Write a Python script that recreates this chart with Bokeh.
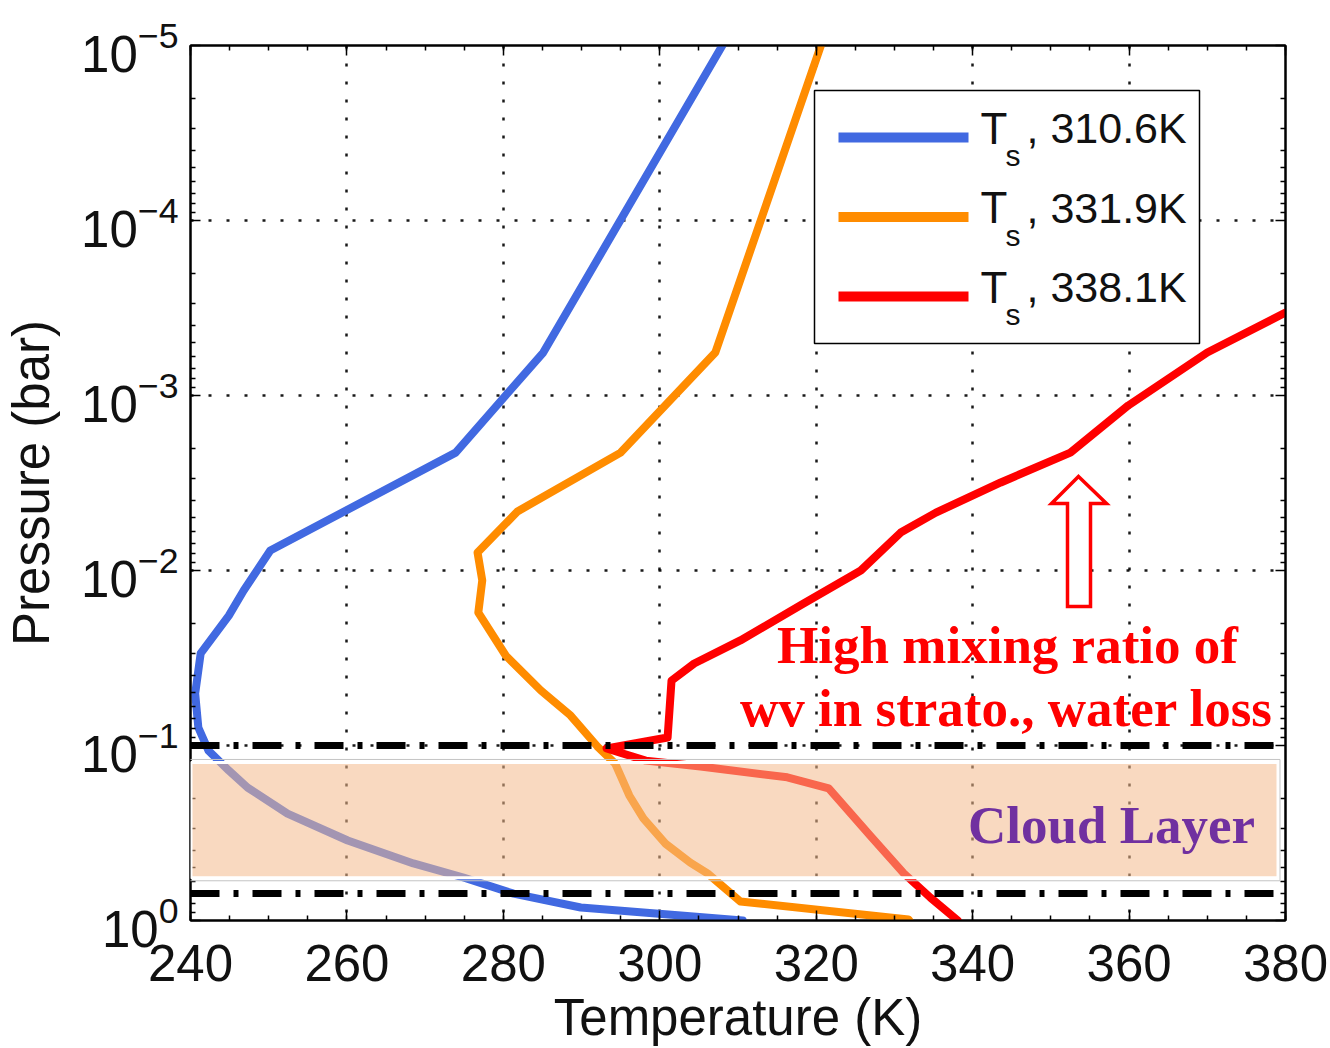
import math
from bokeh.plotting import figure
from bokeh.models import Range1d, FixedTicker, LinearAxis, LogAxis, Span, BoxAnnotation, Label
from bokeh.embed import file_html
from bokeh.resources import INLINE

# ---------------- data ----------------
series_names = ["310.6K", "331.9K", "338.1K"]
series_colors = ["#4169E1", "#FF8C00", "#FF0000"]

blue_T = [308.0, 285.1, 273.9, 250.2, 246.8, 244.9, 241.3, 240.6, 241.0, 242.3,
          244.9, 247.3, 252.4, 260.1, 268.5, 274.9, 281.3, 289.9, 302.7, 310.6]
blue_p = [1.0e-5, 5.68e-4, 2.12e-3, 7.69e-3, 1.30e-2, 1.81e-2, 2.98e-2, 5.05e-2, 7.89e-2, 0.107,
          0.139, 0.174, 0.245, 0.349, 0.472, 0.568, 0.702, 0.843, 0.935, 1.0]

orange_T = [320.6, 307.1, 295.0, 281.8, 276.7, 277.3, 276.8, 280.3, 284.8, 288.6,
            292.0, 294.3, 296.1, 297.9, 300.7, 303.9, 306.1, 310.3, 331.8, 331.9]
orange_p = [1.0e-5, 5.68e-4, 2.12e-3, 4.60e-3, 7.89e-3, 1.14e-2, 1.74e-2, 3.06e-2, 4.85e-2, 6.74e-2,
            0.101, 0.127, 0.193, 0.261, 0.363, 0.467, 0.538, 0.778, 0.987, 1.0]

red_T = [380.0, 370.0, 359.9, 352.5, 343.6, 335.3, 330.8, 325.7, 318.0, 310.3, 304.4,
         301.5, 301.0, 293.2, 298.2, 305.2, 316.3, 321.6, 326.9, 331.2, 334.6, 338.1]
red_p = [3.36e-4, 5.68e-4, 1.14e-3, 2.12e-3, 3.14e-3, 4.67e-3, 6.07e-3, 1.0e-2, 1.58e-2, 2.51e-2, 3.40e-2,
         4.26e-2, 9.00e-2, 0.104, 0.122, 0.132, 0.152, 0.176, 0.327, 0.538, 0.740, 1.0]

x_ticks = [240, 260, 280, 300, 320, 340, 360, 380]
x_minor = list(range(240, 381, 5))
y_ticks = [1e-5, 1e-4, 1e-3, 1e-2, 1e-1, 1e0]
y_minor = [m * 10.0 ** k for k in range(-5, 0) for m in range(2, 10)]

cloud_lines_p = [0.1, 0.70]          # dash-dot boundaries
cloud_box_p = (0.125, 0.57)          # shaded cloud layer

# ---------------- layout helpers ----------------
W, H = 1330, 1048
BL, BT, FW, FH = 190, 45, 1095, 875
SX0, SY0 = BL, BT


def T_at(sx):
    return 240 + (sx - SX0) * 140.0 / FW


def p_at(sy):
    return 10 ** (-5 + (sy - SY0) * 5.0 / FH)


def y_px(p):
    return SY0 + (math.log10(p) + 5) * FH / 5.0


p = figure(width=W, height=H, output_backend="svg", toolbar_location=None,
           x_range=Range1d(240, 380), y_range=Range1d(1, 1e-5), y_axis_type="log",
           min_border_left=BL, min_border_top=BT, min_border_right=W - BL - FW,
           min_border_bottom=H - BT - FH, background_fill_color="white",
           border_fill_color="white")
p.outline_line_color = "black"
p.outline_line_width = 2

xt = FixedTicker(ticks=x_ticks, minor_ticks=x_minor)
yt = FixedTicker(ticks=y_ticks, minor_ticks=y_minor)
top_ax = LinearAxis(major_label_overrides={t: "" for t in x_ticks})
right_ax = LogAxis(major_label_overrides={t: "" for t in y_ticks})
p.add_layout(top_ax, "above")
p.add_layout(right_ax, "right")
for ax in p.xaxis:
    ax.ticker = xt
for ax in p.yaxis:
    ax.ticker = yt
for ax in p.axis:
    ax.major_tick_in = 10
    ax.major_tick_out = 0
    ax.minor_tick_in = 5
    ax.minor_tick_out = 0
    ax.major_tick_line_color = "black"
    ax.minor_tick_line_color = "black"
    ax.major_tick_line_width = 1.5
    ax.minor_tick_line_width = 1.5
    ax.axis_line_color = "black"
    ax.axis_line_width = 2
    ax.major_label_text_font = "Liberation Sans"
    ax.major_label_text_color = "#111111"
    ax.axis_label_text_font = "Liberation Sans"
    ax.axis_label_text_font_style = "normal"
    ax.axis_label_text_color = "#111111"
for ax in (top_ax, right_ax):
    ax.major_label_text_font_size = "10px"
    ax.major_label_standoff = 0

bx = p.below[0]
bx.major_label_text_font_size = "51px"
bx.major_label_standoff = 24
bx.axis_label = "Temperature (K)"
bx.axis_label_text_font_size = "51px"
bx.axis_label_standoff = 5

ly = p.left[0]
ly.major_label_text_font_size = "51px"
ly.major_label_standoff = 12
ly.axis_label = "Pressure (bar)"
ly.axis_label_text_font_size = "51px"
ly.axis_label_standoff = 18

for g in (p.xgrid, p.ygrid):
    g.grid_line_color = "black"
    g.grid_line_dash = "3 15"
    g.grid_line_width = 2.5
    g.grid_line_alpha = 0.9
p.xgrid.ticker = xt
p.ygrid.ticker = yt

# ---------------- curves ----------------
for xs, ys, c in ((blue_T, blue_p, series_colors[0]),
                  (orange_T, orange_p, series_colors[1]),
                  (red_T, red_p, series_colors[2])):
    p.line(xs, ys, line_color=c, line_width=8, line_join="round", line_cap="round")

# ---------------- cloud layer ----------------
p.add_layout(BoxAnnotation(left=T_at(190.5), right=T_at(1277.5),
                           top=cloud_box_p[0], bottom=cloud_box_p[1],
                           fill_color="#F4BA8C", fill_alpha=0.55,
                           line_color="white", line_alpha=1, line_width=3))
p.add_layout(BoxAnnotation(left=T_at(188.5), right=T_at(1279.5),
                           top=p_at(y_px(cloud_box_p[0]) - 3), bottom=p_at(y_px(cloud_box_p[1]) + 3),
                           fill_alpha=0, line_color="#c4c4c4", line_alpha=1, line_width=1))
for lp in cloud_lines_p:
    p.add_layout(Span(location=lp, dimension="width", line_color="black",
                      line_width=7, line_dash="29 14 5 14"))

# ---------------- arrow ----------------
arrow_px = [(1078, 476), (1106, 503), (1090, 503), (1090, 606),
            (1067, 606), (1067, 503), (1051, 503)]
p.patch([T_at(a) for a, b in arrow_px], [p_at(b) for a, b in arrow_px],
        fill_color="white", line_color="#FF0000", line_width=3.5, line_join="miter")

# ---------------- legend ----------------
p.add_layout(BoxAnnotation(left=T_at(814), right=T_at(1199), top=p_at(90), bottom=p_at(343),
                           fill_color="white", fill_alpha=1, line_color="black", line_alpha=1,
                           line_width=1.5))
for i, (name, col) in enumerate(zip(series_names, series_colors)):
    yc = 137 + 79.5 * i
    p.add_layout(BoxAnnotation(left=T_at(838), right=T_at(968), top=p_at(yc - 5), bottom=p_at(yc + 5),
                               fill_color=col, fill_alpha=1, line_color=None))
    p.add_layout(Label(x=T_at(980), y=p_at(yc - 9.5), text="T", text_font="Liberation Sans",
                       text_font_size="44px", text_align="left", text_baseline="middle",
                       text_color="#111111"))
    p.add_layout(Label(x=T_at(1005), y=p_at(yc + 18), text="s", text_font="Liberation Sans",
                       text_font_size="30px", text_align="left", text_baseline="middle",
                       text_color="#111111"))
    p.add_layout(Label(x=T_at(1026), y=p_at(yc - 9.5), text=", " + name, text_font="Liberation Sans",
                       text_font_size="43px", text_align="left", text_baseline="middle",
                       text_color="#111111"))

# ---------------- annotation texts ----------------
p.add_layout(Label(x=T_at(1007), y=p_at(644.5), text="High mixing ratio of",
                   text_font="Liberation Serif", text_font_style="bold", text_font_size="53px",
                   text_color="#FF0000", text_align="center", text_baseline="middle"))
p.add_layout(Label(x=T_at(1006), y=p_at(707.5), text="wv in strato., water loss",
                   text_font="Liberation Serif", text_font_style="bold", text_font_size="53px",
                   text_color="#FF0000", text_align="center", text_baseline="middle"))
p.add_layout(Label(x=T_at(1111), y=p_at(824.5), text="Cloud Layer",
                   text_font="Liberation Serif", text_font_style="bold", text_font_size="53px",
                   text_color="#7030A0", text_align="center", text_baseline="middle"))

open("out.html", "w").write(file_html(p, INLINE))
